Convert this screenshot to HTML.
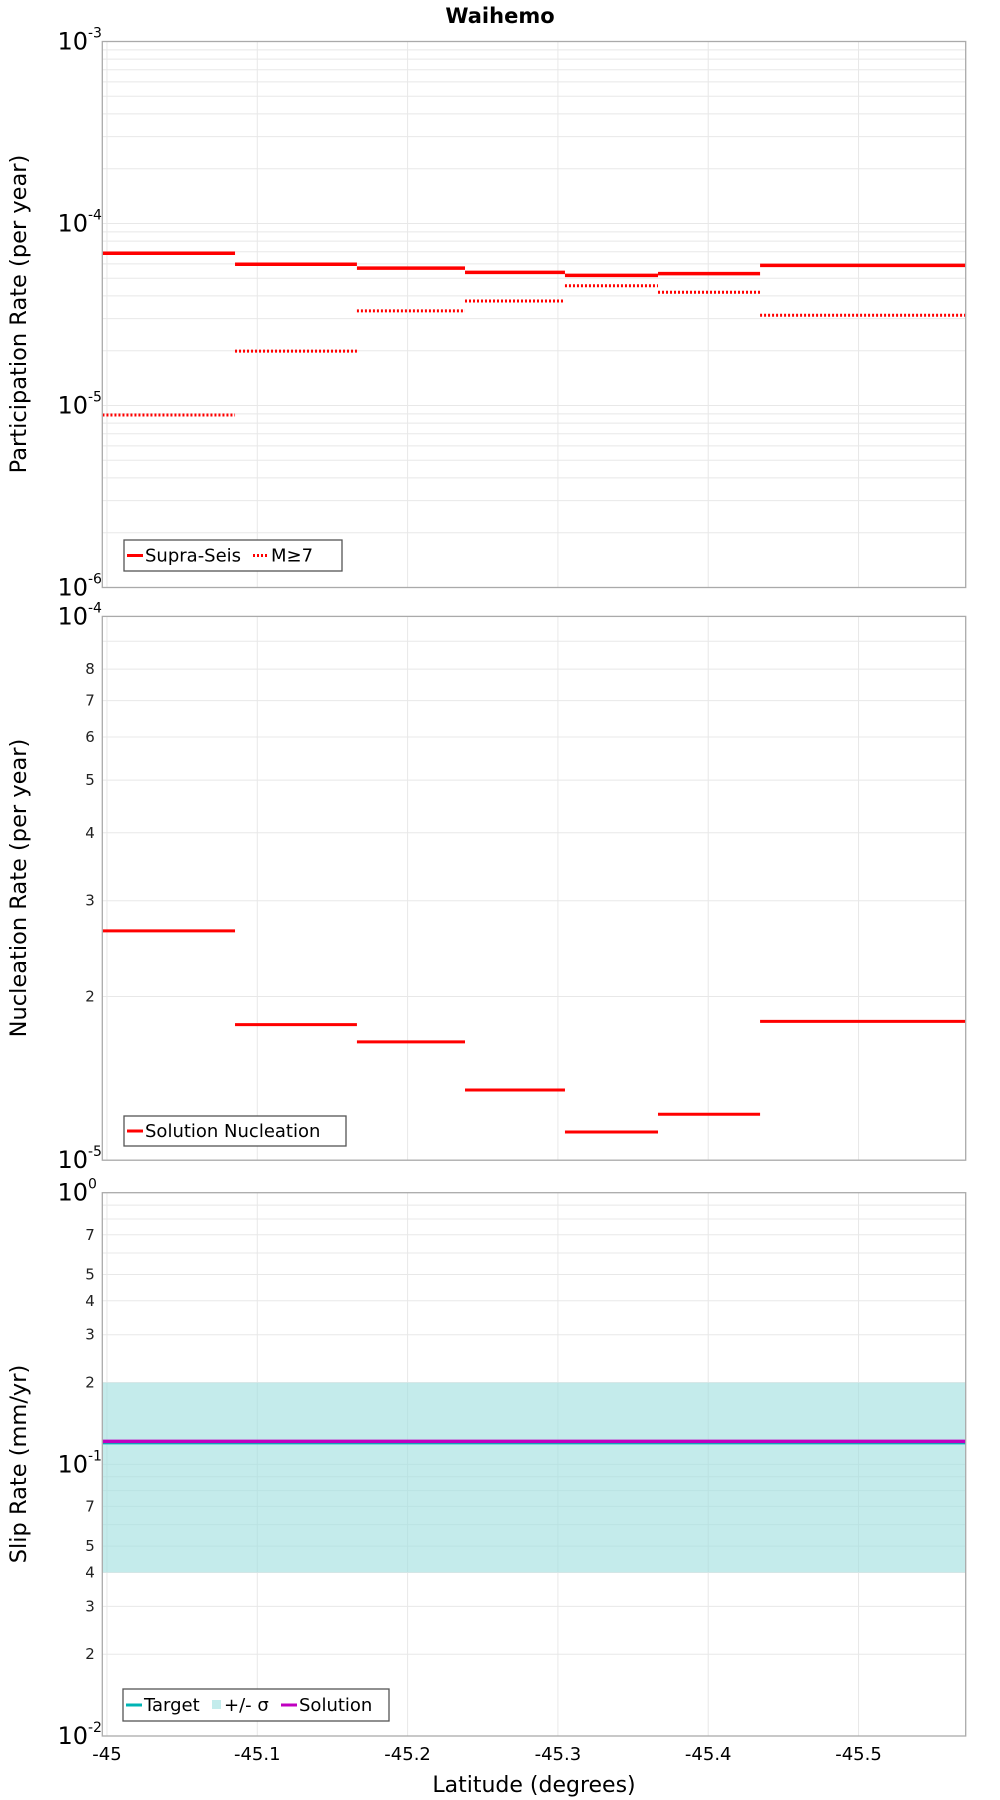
<!DOCTYPE html>
<html><head><meta charset="utf-8"><style>
html,body{margin:0;padding:0;background:#fff;}
svg{display:block;font-family:"DejaVu Sans","Liberation Sans",sans-serif;}
</style></head><body>
<svg id="chart" width="1000" height="1800" viewBox="0 0 1000 1800" xmlns="http://www.w3.org/2000/svg">
<text x="500" y="23" text-anchor="middle" font-size="21" font-weight="bold">Waihemo</text>
<text x="534" y="1792" text-anchor="middle" font-size="22">Latitude (degrees)</text>
<text transform="translate(26,314) rotate(-90)" text-anchor="middle" font-size="22.5">Participation Rate (per year)</text>
<text transform="translate(26,888) rotate(-90)" text-anchor="middle" font-size="22.5">Nucleation Rate (per year)</text>
<text transform="translate(26,1464) rotate(-90)" text-anchor="middle" font-size="22.5">Slip Rate (mm/yr)</text>
<g id="layer"></g>
</svg>
<script>
const segEdges = [-44.997, -45.0852, -45.1663, -45.2382, -45.3047, -45.3666, -45.4345, -45.5713];
const supraSeis = [6.86e-5, 5.97e-5, 5.69e-5, 5.39e-5, 5.19e-5, 5.30e-5, 5.89e-5];
const m7Rates = [8.87e-6, 1.99e-5, 3.31e-5, 3.75e-5, 4.55e-5, 4.19e-5, 3.13e-5];
const nucleation = [2.64e-5, 1.775e-5, 1.65e-5, 1.346e-5, 1.127e-5, 1.215e-5, 1.80e-5];
const slipTarget = [0.12];
const slipLower = [0.04];
const slipUpper = [0.2];
const slipSolution = [0.1215];
const xTicks = [-45, -45.1, -45.2, -45.3, -45.4, -45.5];
const xTickLabels = ["-45", "-45.1", "-45.2", "-45.3", "-45.4", "-45.5"];

const NS = "http://www.w3.org/2000/svg";
const layer = document.getElementById('layer');
const XL = 102.3, XR = 965.7, XMIN = -44.9969, XMAX = -45.5713;
function xScale(v){ return XL + (v - XMIN) / (XMAX - XMIN) * (XR - XL); }
function mk(tag, attrs, parent){
  const e = document.createElementNS(NS, tag);
  for (const k in attrs) e.setAttribute(k, attrs[k]);
  (parent || layer).appendChild(e);
  return e;
}
const panels = [
  {top: 41.5, bot: 587.5, lo: -6, hi: -3, minorLabels: []},
  {top: 616.4, bot: 1160.2, lo: -5, hi: -4, minorLabels: [2,3,4,5,6,7,8]},
  {top: 1192.7, bot: 1736, lo: -2, hi: 0, minorLabels: [2,3,4,5,7]}
];
function yScaleFor(p){ return v => p.bot - (Math.log10(v) - p.lo) / (p.hi - p.lo) * (p.bot - p.top); }

panels.forEach((p, pi) => {
  const ys = yScaleFor(p);
  const g = mk('g', {});
  
  
  for (let d = p.lo; d < p.hi; d++) {
    for (let m = 1; m <= 9; m++) {
      const v = m * Math.pow(10, d);
      const y = ys(v);
      const gl = mk('line', {x1: XL, x2: XR, y1: y, y2: y, stroke: '#e8e8e8', 'stroke-width': 1}, g);
      
      
      if (m > 1 && p.minorLabels.indexOf(m) >= 0) {
        const t = mk('text', {x: 90, y: y + 5, 'text-anchor': 'middle', 'font-size': 15, fill: '#222'}, g);
        t.textContent = String(m);
        
        
      }
    }
  }
  xTicks.forEach(v => {
    const x = xScale(v);
    const gl = mk('line', {x1: x, x2: x, y1: p.top, y2: p.bot, stroke: '#e8e8e8', 'stroke-width': 1}, g);
    
    
  });
  for (let d = p.lo; d <= p.hi; d++) {
    const y = ys(Math.pow(10, d));
    const t = mk('text', {x: 88, y: y + 8, 'text-anchor': 'end', 'font-size': 24}, g);
    t.textContent = '10';
    
    
    const s = mk('text', {x: 88, y: y - 4, 'text-anchor': 'start', 'font-size': 14}, g);
    s.textContent = String(d);
    
    
  }
  p.g = g; p.ys = ys;
});

(function(){
  const p = panels[0], ys = p.ys;
  m7Rates.forEach((v, i) => {
    const l = mk('line', {x1: xScale(segEdges[i]), x2: xScale(segEdges[i+1]), y1: ys(v), y2: ys(v), stroke: '#ff0000', 'stroke-width': 3, 'stroke-dasharray': '2,2'}, p.g);
    
    
  });
  supraSeis.forEach((v, i) => {
    const l = mk('line', {x1: xScale(segEdges[i]), x2: xScale(segEdges[i+1]), y1: ys(v), y2: ys(v), stroke: '#ff0000', 'stroke-width': 3.5}, p.g);
    
    
  });
})();
(function(){
  const p = panels[1], ys = p.ys;
  nucleation.forEach((v, i) => {
    const l = mk('line', {x1: xScale(segEdges[i]), x2: xScale(segEdges[i+1]), y1: ys(v), y2: ys(v), stroke: '#ff0000', 'stroke-width': 3}, p.g);
    
    
  });
})();
(function(){
  const p = panels[2], ys = p.ys;
  const b = mk('rect', {x: XL, y: ys(slipUpper[0]), width: XR - XL, height: ys(slipLower[0]) - ys(slipUpper[0]), fill: '#9fdfdf', 'fill-opacity': 0.62}, p.g);
  
  
  const t = mk('line', {x1: XL, x2: XR, y1: ys(slipTarget[0]), y2: ys(slipTarget[0]), stroke: '#00b4b4', 'stroke-width': 3}, p.g);
  
  
  const s = mk('line', {x1: XL, x2: XR, y1: ys(slipSolution[0]), y2: ys(slipSolution[0]), stroke: '#c000c0', 'stroke-width': 3.5}, p.g);
  
  
})();

panels.forEach(p => {
  const r = mk('rect', {x: XL, y: p.top, width: XR - XL, height: p.bot - p.top, fill: 'none', stroke: '#aaaaaa', 'stroke-width': 1.3}, p.g);
  
  
});

xTicks.forEach((v, i) => {
  const t = mk('text', {x: xScale(v), y: 1760, 'text-anchor': 'middle', 'font-size': 18});
  t.textContent = xTickLabels[i];
  
  
});

function legend(x, y, w, h, items, name){
  const g = mk('g', {});
  
  
  const r = mk('rect', {x: x, y: y, width: w, height: h, fill: '#fff', stroke: '#555', 'stroke-width': 1.3}, g);
  
  
  let cx = x + 3;
  const cy = y + h / 2;
  items.forEach(it => {
    let sw;
    if (it.type === 'rect') {
      sw = mk('rect', {x: cx, y: cy - 5, width: 9, height: 9, fill: it.color}, g);
      cx += 12;
    } else {
      sw = mk('line', {x1: cx, x2: cx + 16, y1: cy, y2: cy, stroke: it.color, 'stroke-width': 3}, g);
      if (it.dash) sw.setAttribute('stroke-dasharray', '2,2');
      cx += 18;
    }
    
    
    const t = mk('text', {x: cx, y: cy + 6, 'font-size': 18}, g);
    t.textContent = it.label;
    
    
    cx += it.w;
  });
}
legend(124, 540, 218, 31, [{color: '#ff0000', label: 'Supra-Seis', w: 108}, {color: '#ff0000', dash: true, label: 'M≥7', w: 40}], 'participation-legend');
legend(124, 1116, 222, 30, [{color: '#ff0000', label: 'Solution Nucleation', w: 200}], 'nucleation-legend');
legend(123, 1689, 266, 32, [{color: '#00b4b4', label: 'Target', w: 68}, {type: 'rect', color: '#c3ecec', label: '+/- σ', w: 57}, {color: '#c000c0', label: 'Solution', w: 80}], 'slip-legend');
</script>
</body></html>
